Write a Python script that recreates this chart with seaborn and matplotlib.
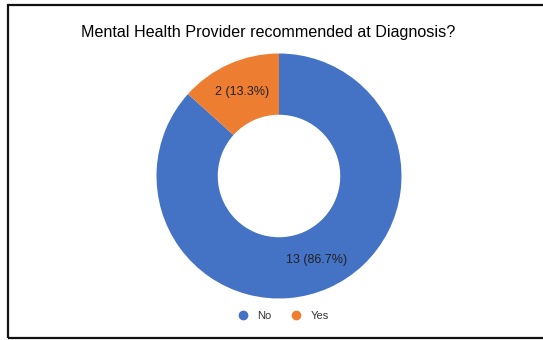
import matplotlib
matplotlib.use("Agg")
import matplotlib.pyplot as plt
from matplotlib.patches import Rectangle
from matplotlib.lines import Line2D
import seaborn as sns

title = "Mental Health Provider recommended at Diagnosis?"
categories = ["No", "Yes"]
counts = [13, 2]
colors = ["#4472C4", "#ED7D31"]

sns.set_theme(style="white")
plt.rcParams["font.family"] = ["Liberation Sans", "DejaVu Sans"]

W, H = 543, 340
fig = plt.figure(figsize=(W / 100, H / 100), dpi=100)
fig.patch.set_facecolor("white")

def px(x, y):
    return x / W, 1 - y / H

# donut
cx, cy, r = 279, 176, 122.5
ax = fig.add_axes([(cx - r) / W, (H - cy - r) / H, 2 * r / W, 2 * r / H])
total = sum(counts)
labels = [f"{c} ({c / total * 100:.1f}%)" for c in counts]
wedges, texts = ax.pie(
    counts, colors=colors, startangle=90, counterclock=False,
    radius=1, wedgeprops=dict(width=0.5, edgecolor="none"),
    labels=labels, labeldistance=0.75,
    textprops=dict(fontsize=9, color="#222222", ha="center", va="center"),
)
for t in texts:
    t.set_ha("center")
    t.set_va("center")
ax.set_xlim(-1, 1)
ax.set_ylim(-1, 1)
ax.set_aspect("equal")
ax.axis("off")

# title
fig.text(*px(268, 33), title, ha="center", va="center", fontsize=11.6, color="#000000")

# legend
handles = [Line2D([], [], marker="o", linestyle="none", markersize=7,
                  markerfacecolor=c, markeredgecolor="none") for c in colors]
fig.legend(handles, categories, loc="center", bbox_to_anchor=px(280, 316), ncol=2,
           frameon=False, fontsize=8, handletextpad=0.3, columnspacing=1.2,
           labelcolor="#333333")

# frame
x0, y0 = px(8, 338)
x1, y1 = px(600, 4.5)
fig.patches.append(Rectangle((x0, y0), x1 - x0, y1 - y0, transform=fig.transFigure,
                             fill=False, edgecolor="#111111", linewidth=1.6, clip_on=False))

fig.savefig("out.png", dpi=100)
